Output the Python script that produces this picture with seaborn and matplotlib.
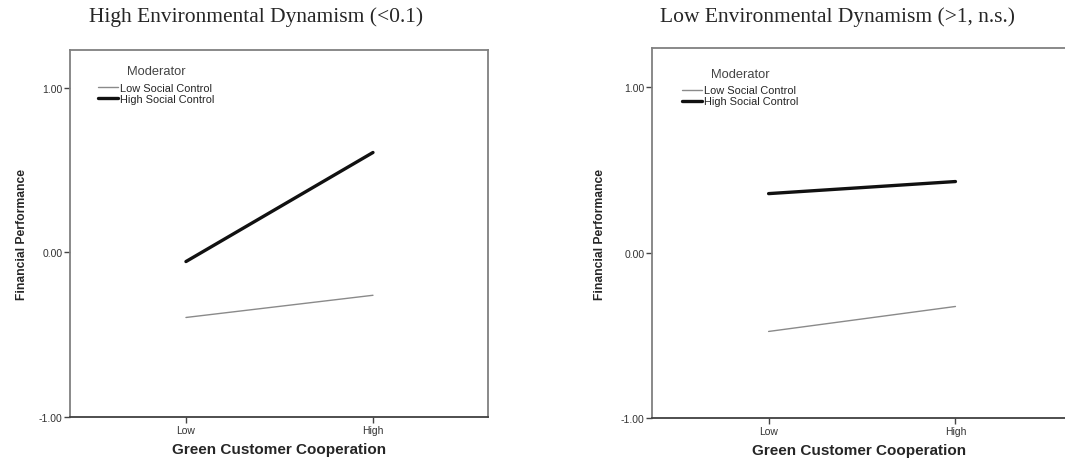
import matplotlib
matplotlib.use("Agg")
import matplotlib.pyplot as plt
import pandas as pd
import seaborn as sns

# values (Financial Performance at Low / High cooperation)
cooperation = ["Low", "High"]
moderator_levels = ["Low Social Control", "High Social Control"]
high_dyn_low_sc = [-0.395, -0.26]
high_dyn_high_sc = [-0.055, 0.608]
low_dyn_low_sc = [-0.477, -0.326]
low_dyn_high_sc = [0.356, 0.429]

panel_titles = ["High Environmental Dynamism (<0.1)", "Low Environmental Dynamism (>1, n.s.)"]
y_ticks = [-1.0, 0.0, 1.0]


def make_frame(low_sc, high_sc):
    rows = []
    for level, vals in zip(moderator_levels, [low_sc, high_sc]):
        for x, v in zip(cooperation, vals):
            rows.append({"Green Customer Cooperation": x, "Financial Performance": v, "Moderator": level})
    return pd.DataFrame(rows)


frames = [make_frame(high_dyn_low_sc, high_dyn_high_sc), make_frame(low_dyn_low_sc, low_dyn_high_sc)]

sns.set_style("white")
plt.rcParams["font.family"] = ["Liberation Sans", "DejaVu Sans"]

fig = plt.figure(figsize=(10.65, 4.64), dpi=100)
axes = [
    fig.add_axes([70 / 1065, 1 - 418 / 464, 418 / 1065, 367 / 464]),
    fig.add_axes([652 / 1065, 1 - 419 / 464, 415 / 1065, 370 / 464]),
]
ylims = [(-1.0, 1.231), (-1.0, 1.236)]
xlims = [(-0.62, 1.615), (-0.624, 1.597)]
title_x = [256, 837]
legend_anchor = [(0.067, 0.911), (0.072, 0.899)]
legend_title_pos = [(0.206, 0.943), (0.212, 0.93)]
ylabel_x = [-0.101, -0.111]

for i, (ax, df) in enumerate(zip(axes, frames)):
    sns.lineplot(
        data=df,
        x="Green Customer Cooperation",
        y="Financial Performance",
        hue="Moderator",
        size="Moderator",
        hue_order=moderator_levels,
        size_order=moderator_levels,
        palette={"Low Social Control": "#8a8a8a", "High Social Control": "#111111"},
        sizes={"Low Social Control": 1.0, "High Social Control": 2.4},
        ax=ax,
    )
    ax.set_ylim(*ylims[i])
    ax.set_xlim(*xlims[i])
    ax.set_yticks(y_ticks)
    ax.set_yticklabels([f"{t:.2f}" for t in y_ticks])
    ax.tick_params(axis="both", direction="out", length=4, width=1, colors="#444444",
                   labelsize=7.5, labelcolor="#333333", left=True, bottom=True, pad=1.5)
    ax.set_xlabel("Green Customer Cooperation", fontsize=11, fontweight="bold", labelpad=5)
    ax.set_ylabel("Financial Performance", fontsize=8.7, fontweight="bold")
    ax.yaxis.set_label_coords(ylabel_x[i], 0.5)
    for side in ["left", "top", "right"]:
        ax.spines[side].set_color("#808080")
        ax.spines[side].set_linewidth(1.3)
    ax.spines["bottom"].set_color("#404040")
    ax.spines["bottom"].set_linewidth(1.3)
    if i == 1:
        ax.spines["right"].set_visible(False)

    sns.move_legend(
        ax, "upper left", bbox_to_anchor=legend_anchor[i], frameon=False,
        title=None, fontsize=7.9,
        handlelength=1.8, handletextpad=0.2, labelspacing=0.1, borderaxespad=0, borderpad=0,
    )
    ax.text(*legend_title_pos[i], "Moderator", transform=ax.transAxes, ha="center", va="center",
            fontsize=9.3, color="#444444")

    fig.text(title_x[i] / 1065, 1 - 17 / 464, panel_titles[i], ha="center", va="center",
             fontsize=15.5, family=["Liberation Serif", "DejaVu Serif"])

fig.savefig("out.png", dpi=100)
